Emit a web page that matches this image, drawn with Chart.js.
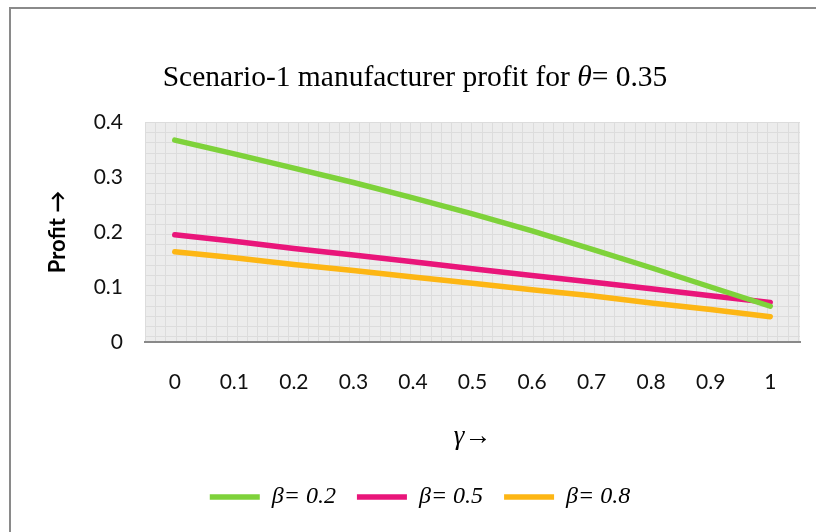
<!DOCTYPE html>
<html>
<head>
<meta charset="utf-8">
<script src="https://cdn.jsdelivr.net/npm/chart.js@4.4.0/dist/chart.umd.min.js"></script>
<style>
  html, body { margin: 0; padding: 0; background: #fff; overflow: hidden; }
  #wrap { position: relative; width: 816px; height: 532px; overflow: hidden; }
  #frame { position: absolute; left: 9px; top: 7px; width: 900px; height: 600px; border: 2px solid #8a8a8a; }
  #chart { position: absolute; left: 0; top: 0; }
</style>
</head>
<body>
<div id="wrap">
  <div id="frame"></div>
  <canvas id="chart" width="816" height="532"></canvas>
</div>
<script>
// gamma values along the x axis
const gammaLabels = ["0", "0.1", "0.2", "0.3", "0.4", "0.5", "0.6", "0.7", "0.8", "0.9", "1"];

// manufacturer profit for each beta
const profitBeta02 = [0.367, 0.342, 0.316, 0.290, 0.262, 0.233, 0.202, 0.169, 0.135, 0.100, 0.065];
const profitBeta05 = [0.195, 0.183, 0.170, 0.158, 0.146, 0.133, 0.121, 0.109, 0.097, 0.084, 0.072];
const profitBeta08 = [0.164, 0.153, 0.141, 0.130, 0.118, 0.107, 0.095, 0.084, 0.071, 0.059, 0.046];

const seriesNames = ["β= 0.2", "β= 0.5", "β= 0.8"];
const seriesColors = ["#7ed23a", "#e9157a", "#fdb614"];

const yMin = 0, yMax = 0.4, yStep = 0.1;

const titleParts = [
  { text: "Scenario-1 manufacturer profit for ", italic: false },
  { text: "θ", italic: true },
  { text: "= 0.35", italic: false },
];

/* ── plot area: grey fill with a fine square grid ── */
const plotBackground = {
  id: "plotBackground",
  beforeDraw(chart) {
    const { ctx, chartArea: a } = chart;
    ctx.save();
    ctx.fillStyle = "#ececec";
    ctx.fillRect(a.left, a.top, a.width, a.height);
    ctx.strokeStyle = "#dcdcdc";
    ctx.lineWidth = 1;
    ctx.beginPath();
    for (let x = a.left; x < a.right; x += 10.2) {
      const px = Math.round(x) + 0.5;
      ctx.moveTo(px, a.top);
      ctx.lineTo(px, a.bottom);
    }
    for (let y = a.top; y < a.bottom; y += 10.2) {
      const py = Math.round(y) + 0.5;
      ctx.moveTo(a.left, py);
      ctx.lineTo(a.right, py);
    }
    ctx.stroke();
    ctx.restore();
  }
};

/* ── title with an italic theta ── */
const mixedTitle = {
  id: "mixedTitle",
  afterDraw(chart) {
    const { ctx } = chart;
    const size = 29.5;
    const fontFor = p => `${p.italic ? "italic " : ""}${size}px "Liberation Serif", "Times New Roman", serif`;
    ctx.save();
    ctx.fillStyle = "#000";
    ctx.textBaseline = "alphabetic";
    ctx.textAlign = "left";
    let total = 0;
    titleParts.forEach(p => { ctx.font = fontFor(p); total += ctx.measureText(p.text).width; });
    let x = 415 - total / 2;
    titleParts.forEach(p => {
      ctx.font = fontFor(p);
      ctx.fillText(p.text, x, 86);
      x += ctx.measureText(p.text).width;
    });
    ctx.restore();
  }
};

const tickFont = { family: "Lato, 'Open Sans', sans-serif", size: 21 };

new Chart(document.getElementById("chart"), {
  type: "line",
  data: {
    labels: gammaLabels,
    datasets: [profitBeta02, profitBeta05, profitBeta08].map((data, i) => ({
      label: seriesNames[i],
      data,
      borderColor: seriesColors[i],
      backgroundColor: seriesColors[i],
      borderWidth: 5.5,
      borderCapStyle: "round",
      borderJoinStyle: "round",
      pointRadius: 0,
      pointHoverRadius: 0,
      tension: 0,
      fill: false,
    })),
  },
  options: {
    responsive: false,
    animation: false,
    layout: { padding: { top: 122, left: 40, right: 16, bottom: 13 } },
    scales: {
      x: {
        offset: true,
        grid: { display: false, drawTicks: false },
        border: { display: true, color: "#898989", width: 2 },
        ticks: { color: "#111", font: tickFont, padding: 28, maxRotation: 0 },
        title: {
          display: true,
          text: "γ→",
          color: "#000",
          font: { family: "'Liberation Serif', serif", size: 27, style: "italic" },
          padding: { top: 0, bottom: 11 },
        },
        afterFit(scale) { scale.height = 122; },
      },
      y: {
        min: yMin,
        max: yMax,
        grid: { display: false, drawTicks: false },
        border: { display: false },
        ticks: {
          stepSize: yStep,
          color: "#111",
          font: tickFont,
          padding: 22,
          callback: v => +v.toFixed(1),
        },
        title: {
          display: true,
          text: "Profit →",
          color: "#000",
          font: { family: "Lato, 'Open Sans', sans-serif", size: 22, weight: "bold" },
          padding: { top: 5, bottom: 0 },
        },
        afterFit(scale) { scale.width = 105; },
      },
    },
    plugins: {
      title: { display: false },
      tooltip: { enabled: false },
      legend: {
        position: "bottom",
        labels: {
          usePointStyle: true,
          pointStyle: "line",
          pointStyleWidth: 50,
          padding: 21,
          color: "#000",
          font: { family: "'Liberation Serif', serif", size: 24, style: "italic" },
        },
      },
    },
  },
  plugins: [plotBackground, mixedTitle],
});
</script>
</body>
</html>
